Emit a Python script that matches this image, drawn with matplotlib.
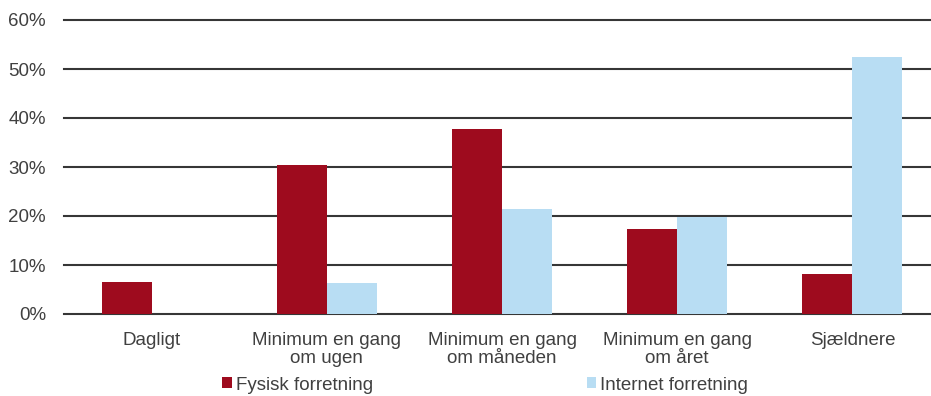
import numpy as np
import matplotlib.pyplot as plt

plt.rcParams['font.family'] = ['Liberation Sans', 'DejaVu Sans']

# Shopping frequency by channel (share of respondents, %)
categories = ["Dagligt", "Minimum en gang\nom ugen", "Minimum en gang\nom måneden",
              "Minimum en gang\nom året", "Sjældnere"]
fysisk = [6.6, 30.4, 37.8, 17.3, 8.1]
internet = [0.0, 6.3, 21.4, 19.7, 52.5]
yticks = [0, 10, 20, 30, 40, 50, 60]

red = "#9E0B1E"
blue = "#B8DDF3"
text_col = "#404040"

fig = plt.figure(figsize=(9.31, 3.96), dpi=100)
# plot area runs a little past the right edge of the figure
ax = fig.add_axes([64 / 931, 1 - 314 / 396, (940 - 64) / 931, (314 - 20) / 396])

x = np.arange(len(categories))
w = 0.285
ax.bar(x - w, fysisk, width=w, align="edge", color=red, label="Fysisk forretning", zorder=3)
ax.bar(x, internet, width=w, align="edge", color=blue, label="Internet forretning", zorder=3)

ax.set_xlim(-0.5, len(categories) - 0.5)
ax.set_ylim(0, 60)
ax.set_yticks(yticks)
ax.set_yticklabels([f"{v}%" for v in yticks])
ax.set_xticks(x)
ax.set_xticklabels(categories, linespacing=1.05)

# horizontal grid, drawn unclipped so the 0% and 60% lines keep full width
for v in yticks:
    ax.axhline(v, color="#363636", linewidth=1.5, zorder=1, clip_on=False)

for s in ax.spines.values():
    s.set_visible(False)
ax.tick_params(axis="both", length=0, labelsize=13.5, labelcolor=text_col)
ax.tick_params(axis="y", pad=13)
ax.tick_params(axis="x", pad=13)

fig.legend(loc="center", bbox_to_anchor=(485 / 931, 1 - 385 / 396), ncol=2,
           frameon=False, fontsize=13.5, handlelength=0.53, handleheight=0.53,
           handletextpad=0.21, columnspacing=11.4, labelcolor=text_col,
           borderpad=0, borderaxespad=0)

fig.savefig("out.png", dpi=100)
